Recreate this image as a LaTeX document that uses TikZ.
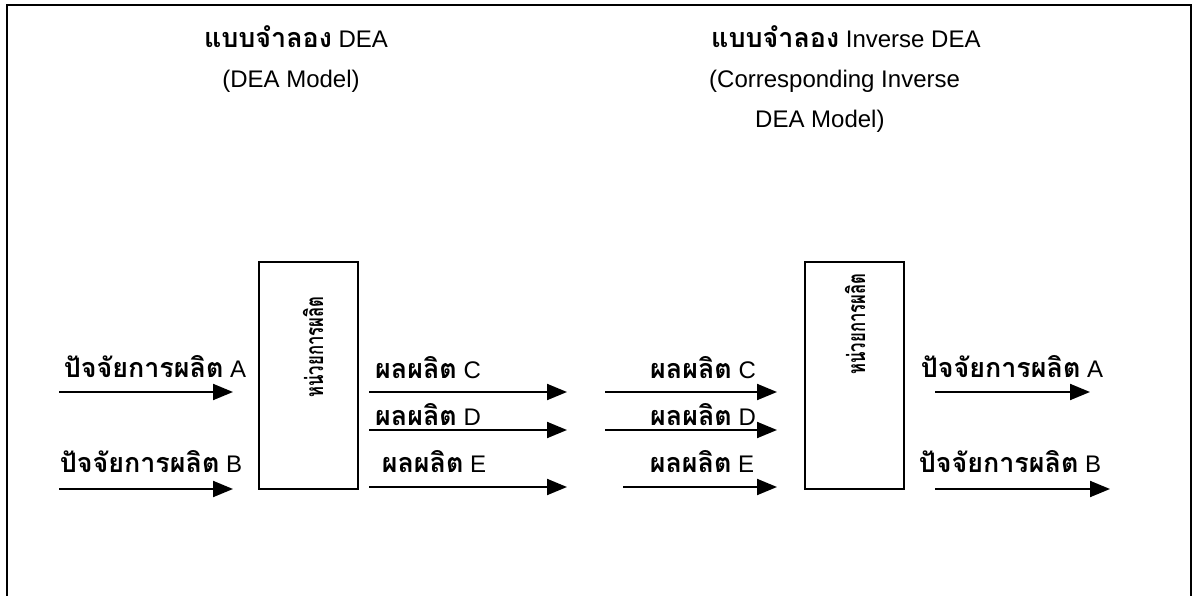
\documentclass[tikz,border=0pt]{standalone}
\usepackage{fontspec}
\setmainfont{Liberation Sans}
\newfontfamily\thaifont[Script=Thai,Scale=1.12]{Loma}
\usetikzlibrary{arrows.meta}
\newcommand\thx[1]{{\thaifont\bfseries #1}}
\begin{document}
\begin{tikzpicture}[x=1pt,y=-1pt,
  arr/.style={line width=2pt,-{Triangle[length=20pt,width=16pt]}},
  lbl/.style={anchor=base,inner sep=0pt,font=\fontsize{24}{28}\selectfont},
  ttl/.style={anchor=base,inner sep=0pt,font=\fontsize{24}{28}\selectfont},
  ttlw/.style={anchor=base west,inner sep=0pt,font=\fontsize{24}{28}\selectfont},
  unitbox/.style={draw,line width=2pt,minimum width=99pt,minimum height=227pt,inner sep=0pt},
  rot/.style={rotate=90,inner sep=0pt,font=\fontsize{22}{26}\selectfont}]
\useasboundingbox (0,0) rectangle (1197,596);
% frame
\draw[line width=2pt] (7,600) -- (7,5) -- (1191,5) -- (1191,600);
% titles
\node[ttl] (t1) at (296,48) {\thx{แบบจำลอง} DEA};
\node[ttl] (t1b) at (291,88) {(DEA Model)};
\node[ttlw] (t2) at (711,48) {\thx{แบบจำลอง} Inverse DEA};
\node[ttlw] (t2b) at (709,88) {(Corresponding Inverse};
\node[ttlw] (t2c) at (755,128) {DEA Model)};
% boxes
\node[unitbox] (u1) at (308,375.5) {};
\node[rot] (u1t) at (313,347) {\scalebox{0.68}[1]{\thx{หน่วยการผลิต}}};
\node[unitbox] (u2) at (854,375.5) {};
\node[rot] (u2t) at (855,324) {\scalebox{0.68}[1]{\thx{หน่วยการผลิต}}};
% coordinates
\coordinate (a1s) at (59,392);  \coordinate (a1e) at (233,392);
\coordinate (b1s) at (59,489);  \coordinate (b1e) at (233,489);
\coordinate (c1s) at (369,392); \coordinate (c1e) at (567,392);
\coordinate (d1s) at (369,430); \coordinate (d1e) at (567,430);
\coordinate (e1s) at (369,487); \coordinate (e1e) at (567,487);
\coordinate (c2s) at (605,392); \coordinate (c2e) at (777,392);
\coordinate (d2s) at (605,430); \coordinate (d2e) at (777,430);
\coordinate (e2s) at (623,487); \coordinate (e2e) at (777,487);
\coordinate (a2s) at (935,392); \coordinate (a2e) at (1090,392);
\coordinate (b2s) at (935,489); \coordinate (b2e) at (1110,489);
% arrows
\foreach \p in {a1,b1,c1,d1,e1,c2,d2,e2,a2,b2}{\draw[arr] (\p s) -- (\p e);}
% labels
\node[lbl] (la1) at (155,377) {\thx{ปัจจัยการผลิต} A};
\node[lbl] (lb1) at (151,472) {\thx{ปัจจัยการผลิต} B};
\node[lbl] (lc1) at (428,378) {\thx{ผลผลิต} C};
\node[lbl] (ld1) at (428,425) {\thx{ผลผลิต} D};
\node[lbl] (le1) at (434,472) {\thx{ผลผลิต} E};
\node[lbl] (lc2) at (703,378) {\thx{ผลผลิต} C};
\node[lbl] (ld2) at (703,425) {\thx{ผลผลิต} D};
\node[lbl] (le2) at (702,472) {\thx{ผลผลิต} E};
\node[lbl] (la2) at (1012,377) {\thx{ปัจจัยการผลิต} A};
\node[lbl] (lb2) at (1010,472) {\thx{ปัจจัยการผลิต} B};
\end{tikzpicture}
\end{document}
